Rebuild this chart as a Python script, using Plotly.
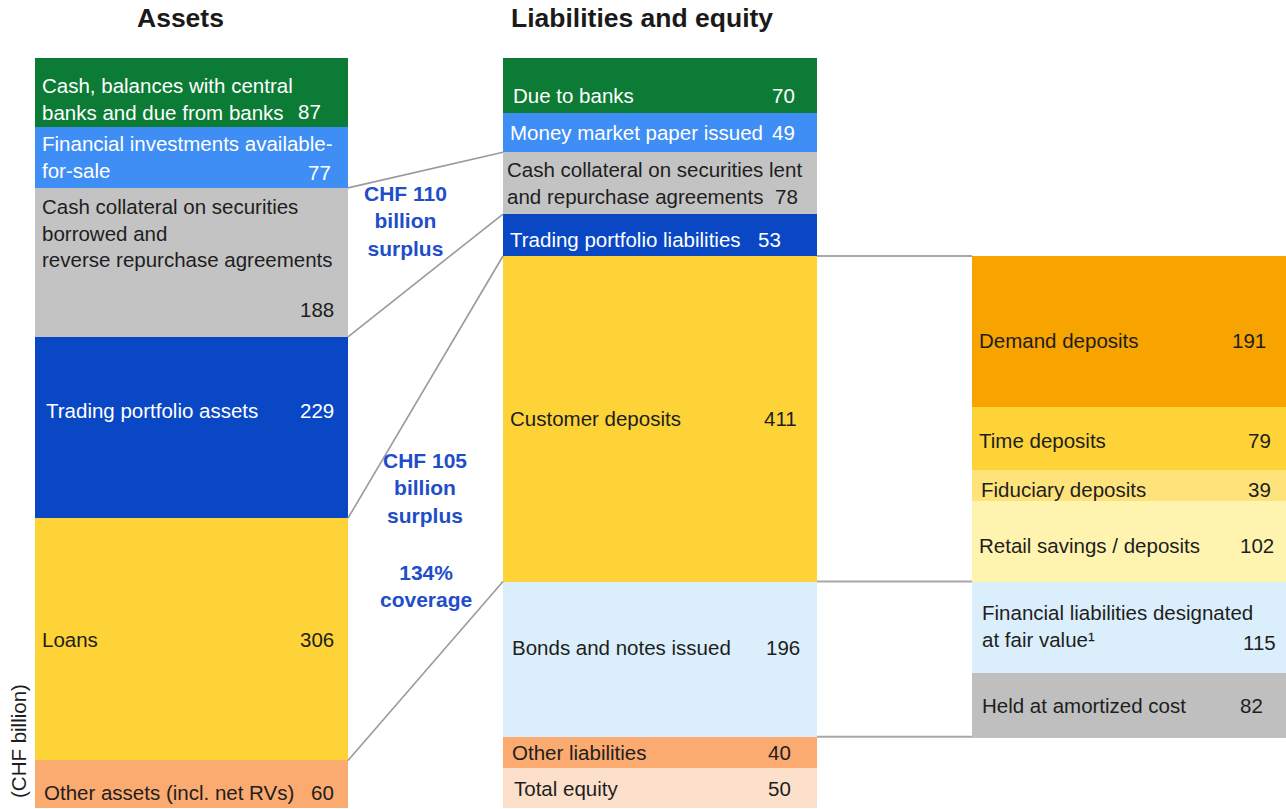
import plotly.graph_objects as go
import numpy as np

# ---------------- data ----------------
asset_labels = ["Cash, balances with central<br>banks and due from banks",
                "Financial investments available-<br>for-sale",
                "Cash collateral on securities<br>borrowed and<br>reverse repurchase agreements",
                "Trading portfolio assets",
                "Loans",
                "Other assets (incl. net RVs)"]
asset_values = [87, 77, 188, 229, 306, 60]

liab_labels = ["Due to banks",
               "Money market paper issued",
               "Cash collateral on securities lent<br>and repurchase agreements",
               "Trading portfolio liabilities",
               "Customer deposits",
               "Bonds and notes issued",
               "Other liabilities",
               "Total equity"]
liab_values = [70, 49, 78, 53, 411, 196, 40, 50]

detail_labels = ["Demand deposits",
                 "Time deposits",
                 "Fiduciary deposits",
                 "Retail savings / deposits",
                 "Financial liabilities designated<br>at fair value¹",
                 "Held at amortized cost"]
detail_values = [191, 79, 39, 102, 115, 82]

titles = ["Assets", "Liabilities and equity"]
callouts = ["CHF 110<br>billion<br>surplus", "CHF 105<br>billion<br>surplus", "134%<br>coverage"]
unit_label = "(CHF billion)"

# ---------------- styles / layout ----------------
W, H = 1286, 809
TOP_PX, BOT_PX = 58, 808
total = sum(asset_values)
scale = (BOT_PX - TOP_PX) / total
y_top = -TOP_PX / scale
y_bot = (H - TOP_PX) / scale

FONT = "Liberation Sans, Arial, sans-serif"
DARK = "#1e1e1e"
BLUE_TXT = "#1f4ec9"

cols = {
    "assets": dict(left=35, right=348),
    "liab": dict(left=503, right=817),
    "detail": dict(left=972, right=1286),
}

asset_colors = ["#0b7b35", "#3f8ef5", "#c3c3c3", "#0a47c4", "#fdd338", "#fbaa70"]
asset_txt = ["white", "white", DARK, "white", DARK, DARK]
asset_lab_dx = [5, 5, 5, 9, 5, 7]
asset_lab_dy = [7, 0, -29.5, -16.5, 0, 8.5]
asset_val_dx = [-25, -15, -12, -12, -12, -12]
asset_val_dy = [19.5, 15.5, 47.5, -16.5, 0, 8.5]

liab_colors = ["#0b7b35", "#3f8ef5", "#c3c3c3", "#0a47c4", "#fdd338", "#dbeefb", "#fbaa70", "#fde0cc"]
liab_txt = ["white", "white", DARK, "white", DARK, DARK, DARK, DARK]
liab_lab_dx = [8, 5, 2, 5, 5, 7, 7, 9]
liab_lab_dy = [10, 0, 0, 4, 0, -12, 0, 0]
liab_val_dx = [-20, -20, -17, -34, -18, -15, -24, -24]
liab_val_dy = [10, 0, 13, 4, 0, -12, 0, 0]

detail_colors = ["#f7a300", "#fdd338", "#fde37a", "#fff3b0", "#dbeefb", "#bfbfbf"]
detail_txt = [DARK] * 6
detail_lab_dx = [5, 5, 7, 5, 8, 8]
detail_lab_dy = [8.5, 1.5, 4, 4, -1.5, 0]
detail_val_dx = [-18, -13, -13, -10, -8, -21]
detail_val_dy = [8.5, 1.5, 4, 4, 15, 0]

detail_base = sum(liab_values[:4])

fig = go.Figure()
annotations = []
FS = 20.5


def add_column(key, values, labels, colors, txtc, ldx, ldy, vdx, vdy, base0=0):
    c = cols[key]
    center = (c["left"] + c["right"]) / 2
    width = c["right"] - c["left"]
    bases = base0 + np.concatenate([[0], np.cumsum(values)[:-1]])
    fig.add_trace(go.Bar(
        x=[center] * len(values), y=values, base=bases, width=[width] * len(values),
        marker=dict(color=colors, line=dict(width=0)),
        hoverinfo="skip", showlegend=False,
    ))
    for i, (v, lab) in enumerate(zip(values, labels)):
        mid = bases[i] + v / 2
        annotations.append(dict(
            x=c["left"] + ldx[i], y=mid, xref="x", yref="y", text=lab,
            showarrow=False, xanchor="left", yanchor="middle", align="left",
            yshift=-ldy[i], font=dict(family=FONT, size=FS, color=txtc[i])))
        annotations.append(dict(
            x=c["right"] + vdx[i], y=mid, xref="x", yref="y", text=str(v),
            showarrow=False, xanchor="right", yanchor="middle", align="right",
            yshift=-vdy[i], font=dict(family=FONT, size=FS, color=txtc[i])))
    return bases


add_column("assets", asset_values, asset_labels, asset_colors, asset_txt,
           asset_lab_dx, asset_lab_dy, asset_val_dx, asset_val_dy)
add_column("liab", liab_values, liab_labels, liab_colors, liab_txt,
           liab_lab_dx, liab_lab_dy, liab_val_dx, liab_val_dy)
add_column("detail", detail_values, detail_labels, detail_colors, detail_txt,
           detail_lab_dx, detail_lab_dy, detail_val_dx, detail_val_dy, base0=detail_base)

a_cum = np.cumsum(asset_values)
l_cum = np.cumsum(liab_values)

shapes = []
LINE = dict(color="#9a9a9a", width=1.6)
# assets -> liabilities connectors
for ai, li in [(1, 1), (2, 2), (3, 3), (4, 4)]:
    shapes.append(dict(type="line", xref="x", yref="y",
                       x0=cols["assets"]["right"], y0=a_cum[ai],
                       x1=cols["liab"]["left"], y1=l_cum[li], line=LINE))
# liabilities -> detail connectors
for li in [3, 4, 5]:
    shapes.append(dict(type="line", xref="x", yref="y",
                       x0=cols["liab"]["right"], y0=l_cum[li],
                       x1=cols["detail"]["left"], y1=l_cum[li], line=dict(color="#a8a8a8", width=2)))


def py(px):
    return (px - TOP_PX) / scale


BFS = 21
annotations.append(dict(x=405, y=py(221), xref="x", yref="y", text=callouts[0], showarrow=False,
                        xanchor="center", yanchor="middle", align="center",
                        font=dict(family=FONT, size=BFS, color=BLUE_TXT, weight="bold")))
annotations.append(dict(x=425, y=py(488), xref="x", yref="y", text=callouts[1], showarrow=False,
                        xanchor="center", yanchor="middle", align="center",
                        font=dict(family=FONT, size=BFS, color=BLUE_TXT, weight="bold")))
annotations.append(dict(x=426, y=py(586), xref="x", yref="y", text=callouts[2], showarrow=False,
                        xanchor="center", yanchor="middle", align="center",
                        font=dict(family=FONT, size=BFS, color=BLUE_TXT, weight="bold")))
# titles
annotations.append(dict(x=180, y=py(18), xref="x", yref="y", text=titles[0], showarrow=False,
                        xanchor="center", yanchor="middle",
                        font=dict(family=FONT, size=26.5, color="#1a1a1a", weight="bold")))
annotations.append(dict(x=642, y=py(18), xref="x", yref="y", text=titles[1], showarrow=False,
                        xanchor="center", yanchor="middle",
                        font=dict(family=FONT, size=26.5, color="#1a1a1a", weight="bold")))
# unit label
annotations.append(dict(x=18, y=py(741), xref="x", yref="y", text=unit_label, showarrow=False,
                        textangle=-90, xanchor="center", yanchor="middle",
                        font=dict(family=FONT, size=FS, color=DARK)))

fig.update_layout(
    width=W, height=H, margin=dict(l=0, r=0, t=0, b=0),
    paper_bgcolor="white", plot_bgcolor="white",
    barmode="overlay", bargap=0,
    xaxis=dict(range=[0, W], visible=False, fixedrange=True),
    yaxis=dict(range=[y_bot, y_top], visible=False, fixedrange=True),
    annotations=annotations, shapes=shapes,
)

fig.write_html("out.html", config={"displayModeBar": False},
               post_script="document.body.style.margin='0';document.body.style.overflow='hidden';")
